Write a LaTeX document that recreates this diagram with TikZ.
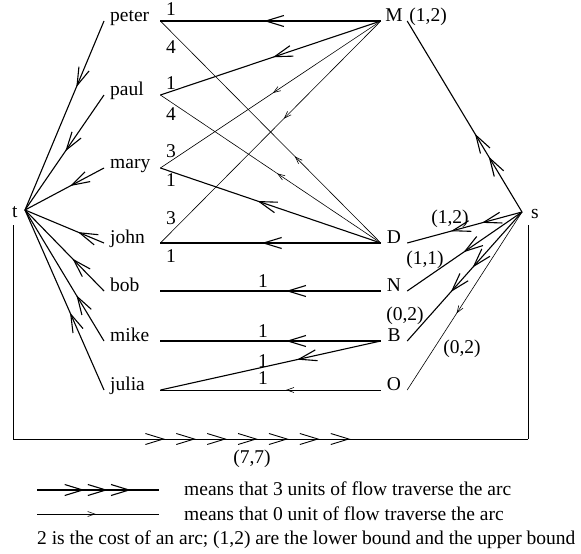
\documentclass[tikz,border=0pt]{standalone}
\usepackage{fontspec}
\setmainfont{Liberation Serif}
\usetikzlibrary{arrows.meta,decorations.markings}

\tikzset{
  chev/.tip={Straight Barb[length=18pt,width=11pt]},
  tinychev/.tip={Straight Barb[length=7pt,width=5pt]}
}

\begin{document}
\begin{tikzpicture}[
    x=1pt,y=-1pt,
    font=\fontsize{19.5}{23}\selectfont,
    person/.style={anchor=base west,inner xsep=6pt,inner ysep=0pt,text width=44pt,align=left},
    source/.style={anchor=base,inner sep=0pt,minimum width=26pt},
    lbl/.style={inner sep=0pt},
    flowline/.style={line width=1.1pt},
    zeroline/.style={line width=0.6pt},
    flowone/.style={flowline,postaction={decorate},decoration={markings,mark=at position #1 with {\arrow{chev}}}},
    flowtwo/.style 2 args={flowline,postaction={decorate},decoration={markings,mark=at position #1 with {\arrow{chev}},mark=at position #2 with {\arrow{chev}}}},
    flowzero/.style={zeroline,postaction={decorate},decoration={markings,mark=at position #1 with {\arrow{tinychev}}}},
    flowseven/.style={line width=0.9pt,postaction={decorate},decoration={markings,mark=between positions 0.295 and 0.66 step 0.06 with {\arrow{chev}}}},
    flowthree/.style={flowline,postaction={decorate},decoration={markings,mark=at position 0.39 with {\arrow{chev}},mark=at position 0.58 with {\arrow{chev}},mark=at position 0.77 with {\arrow{chev}}}}
  ]
  \useasboundingbox (0,0) rectangle (581,554);

  % people
  \node[person] (peter) at (104,21) {peter};
  \node[person] (paul) at (104,95) {paul};
  \node[person] (mary) at (104,168) {mary};
  \node[person] (john) at (104,243) {john};
  \node[person] (bob) at (104,291) {bob};
  \node[person] (mike) at (104,341) {mike};
  \node[person] (julia) at (104,390) {julia};

  % sources
  \node[source] (M) at (394,21) {M};
  \node[source] (D) at (394,243) {D};
  \node[source] (N) at (394,291) {N};
  \node[source] (B) at (394,341) {B};
  \node[source] (O) at (394,390) {O};

  % sink and source
  \coordinate (t) at (25,210);
  \coordinate (s) at (522,212);
  \node[lbl,anchor=base west] (tlab) at (12,217) {t};
  \node[lbl,anchor=base west] (slab) at (531,218) {s};

  % middle arcs
  \draw[flowone=0.53] (M.base west) -- (peter.base east);
  \draw[flowone=0.49] (M.base west) -- (paul.base east);
  \draw[flowzero=0.49] (M.base west) -- (mary.base east);
  \draw[flowzero=0.44] (M.base west) -- (john.base east);
  \draw[flowzero=0.39] (D.base west) -- (peter.base east);
  \draw[flowzero=0.47] (D.base west) -- (paul.base east);
  \draw[flowone=0.56] (D.base west) -- (mary.base east);
  \draw[flowone=0.54] (D.base west) -- (john.base east);
  \draw[flowone=0.43] (N.base west) -- (bob.base east);
  \draw[flowone=0.43] (B.base west) -- (mike.base east);
  \draw[flowone=0.38] (B.base west) -- (julia.base east);
  \draw[flowzero=0.43] (O.base west) -- (julia.base east);

  % arcs out of s
  \draw[flowtwo={0.29}{0.41}] (s) -- (M.base east);
  \draw[flowtwo={0.35}{0.62}] (s) -- (D.base east);
  \draw[flowone=0.51] (s) -- (N.base east);
  \draw[flowtwo={0.43}{0.62}] (s) -- (B.base east);
  \draw[flowzero=0.57] (s) -- (O.base east);

  % arcs into t
  \draw[flowone=0.35] (peter.base west) -- (t);
  \draw[flowone=0.49] (paul.base west) -- (t);
  \draw[flowone=0.43] (mary.base west) -- (t);
  \draw[flowone=0.33] (john.base west) -- (t);
  \draw[flowone=0.40] (bob.base west) -- (t);
  \draw[flowone=0.35] (mike.base west) -- (t);
  \draw[flowone=0.43] (julia.base west) -- (t);

  % return arc t -> s
  \coordinate (loopTL) at (13,225);
  \coordinate (loopBL) at (13,439);
  \coordinate (loopBR) at (528,439);
  \coordinate (loopTR) at (528,225);
  \draw[line width=0.9pt] (loopTL) -- (loopBL);
  \draw[flowseven] (loopBL) -- (loopBR);
  \draw[line width=0.9pt] (loopBR) -- (loopTR);
  \node[lbl] (bloop) at (252,459) {(7,7)};

  % costs
  \node[lbl] (cMpeter) at (171,9) {1};
  \node[lbl] (cDpeter) at (171,47) {4};
  \node[lbl] (cMpaul) at (171,83) {1};
  \node[lbl] (cDpaul) at (171,114) {4};
  \node[lbl] (cMmary) at (171,151) {3};
  \node[lbl] (cDmary) at (171,180) {1};
  \node[lbl] (cMjohn) at (171,218) {3};
  \node[lbl] (cDjohn) at (171,256) {1};
  \node[lbl] (cNbob) at (263,281) {1};
  \node[lbl] (cBmike) at (263,331) {1};
  \node[lbl] (cBjulia) at (263,361) {1};
  \node[lbl] (cOjulia) at (263,378) {1};

  % bounds
  \node[lbl,anchor=base west,xshift=2pt] (bM) at (M.base east) {(1,2)};
  \node[lbl] (bD) at (450,219) {(1,2)};
  \node[lbl] (bN) at (425,260) {(1,1)};
  \node[lbl] (bB) at (405,316) {(0,2)};
  \node[lbl] (bO) at (462,349) {(0,2)};

  % legend
  \coordinate (keyA) at (37,490);
  \coordinate (keyB) at (159,490);
  \coordinate (keyC) at (37,514);
  \coordinate (keyD) at (159,514);
  \draw[flowthree] (keyA) -- (keyB);
  \draw[flowzero=0.48] (keyC) -- (keyD);
  \node[lbl,anchor=west] (keyAtext) at (184,489) {means that 3 units of flow traverse the arc};
  \node[lbl,anchor=west] (keyCtext) at (184,514) {means that 0 unit of flow traverse the arc};
  \node[lbl,anchor=west] (note) at (37,540) {2 is the cost of an arc; (1,2) are the lower bound and the upper bound};
\end{tikzpicture}
\end{document}
